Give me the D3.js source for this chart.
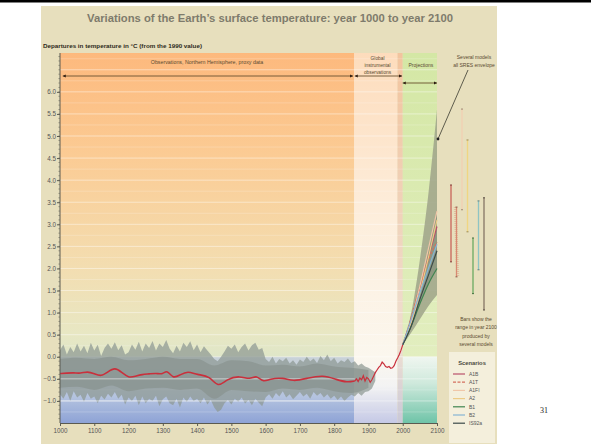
<!DOCTYPE html>
<html lang="en">
<head>
  <meta charset="utf-8">
  <script src="https://d3js.org/d3.v7.min.js"></script>
  <style>
    body { margin: 0; background: #fff; }
    svg { display: block; font-family: "Liberation Sans", Arial, sans-serif; }
  </style>
</head>
<body>
  <svg width="591" height="444"></svg>

  <script>
    const W = 591, H = 444;

    // smoothed proxy reconstruction (red line), 1000-1860
    const redYears = [1000, 1020, 1040, 1060, 1080, 1100, 1120, 1140, 1160, 1180, 1200, 1220, 1240, 1260, 1280, 1300, 1312, 1330, 1350, 1373, 1400, 1437, 1461, 1487, 1525, 1554, 1574, 1592, 1612, 1650, 1680, 1720, 1767, 1808, 1837, 1860];
    const redTemps = [-0.38, -0.37, -0.36, -0.38, -0.33, -0.38, -0.45, -0.34, -0.24, -0.35, -0.48, -0.44, -0.40, -0.39, -0.37, -0.40, -0.29, -0.50, -0.41, -0.32, -0.41, -0.43, -0.71, -0.50, -0.43, -0.52, -0.41, -0.58, -0.50, -0.47, -0.56, -0.49, -0.41, -0.52, -0.58, -0.55];

    // instrumental record
    const instYears = [1860, 1865, 1870, 1875, 1880, 1885, 1890, 1895, 1900, 1905, 1910, 1915, 1920, 1925, 1930, 1935, 1940, 1945, 1950, 1955, 1960, 1965, 1970, 1975, 1980, 1985, 1990, 1995, 2000];
    const instTemps = [-0.55, -0.50, -0.56, -0.48, -0.52, -0.43, -0.55, -0.47, -0.50, -0.58, -0.52, -0.44, -0.36, -0.30, -0.24, -0.20, -0.12, -0.16, -0.22, -0.24, -0.22, -0.26, -0.25, -0.20, -0.10, -0.03, 0.05, 0.15, 0.27];

    // annual proxy spread (grey spikes), every 10 years
    const spreadYears = d3.range(1000, 1921, 10);
    const spreadHi = [0.15, 0.28, 0.05, 0.22, 0.10, 0.30, 0.12, 0.25, 0.08, 0.32,
      0.14, 0.27, 0.02, 0.20, 0.30, 0.18, 0.33, 0.15, 0.26, 0.05,
      0.10, 0.28, 0.16, 0.34, 0.12, 0.30, 0.20, 0.36, 0.14, 0.30,
      0.22, 0.38, 0.18, 0.08, 0.25, 0.12, 0.32, 0.22, 0.35, 0.15,
      0.28, 0.10, 0.24, 0.14, 0.05, -0.05, -0.10, 0.00, 0.12, 0.25,
      0.18, 0.28, 0.10, 0.22, 0.30, 0.14, 0.26, 0.32, 0.16, 0.20,
      -0.05, -0.12, 0.00, -0.15, -0.05, -0.10, -0.02, -0.15, -0.08, -0.18,
      -0.06, -0.12, 0.00, -0.10, -0.04, -0.14, 0.02, -0.08, 0.05, -0.10,
      -0.02, -0.15, -0.08, -0.12, -0.04, -0.14, -0.10, -0.20, -0.15, -0.22,
      -0.25, -0.30, -0.35];
    const spreadLo = [-0.85, -0.95, -0.80, -1.00, -0.78, -0.92, -0.86, -1.02, -0.82, -0.95,
      -0.90, -1.05, -0.88, -0.97, -0.84, -0.92, -0.80, -0.95, -0.86, -1.08,
      -0.92, -1.00, -0.88, -1.10, -0.90, -1.05, -0.95, -1.00, -0.88, -1.12,
      -0.96, -0.90, -1.05, -1.10, -0.95, -1.15, -0.92, -1.02, -0.90, -1.00,
      -0.95, -1.05, -0.92, -1.08, -0.98, -1.15, -1.25, -1.20, -1.05, -0.98,
      -1.08, -0.95, -1.02, -0.92, -1.06, -0.98, -1.10, -0.95, -1.04, -1.12,
      -0.92, -0.85, -0.95, -0.82, -0.90, -0.78, -0.92, -0.85, -0.96, -0.88,
      -0.80, -0.90, -0.84, -0.95, -0.80, -0.88, -0.82, -0.92, -0.85, -0.95,
      -0.88, -0.98, -0.90, -1.00, -0.92, -0.86, -0.90, -0.82, -0.88, -0.80,
      -0.78, -0.72, -0.55];

    // dense core of the proxy spread
    const coreYears = [1000, 1050, 1100, 1150, 1200, 1250, 1300, 1350, 1400, 1450, 1500, 1550, 1600, 1650, 1700, 1750, 1800, 1850, 1900];
    const coreHi = [-0.05, -0.02, -0.05, 0.00, -0.08, -0.05, 0.00, -0.05, -0.05, -0.20, -0.08, -0.10, -0.20, -0.18, -0.22, -0.15, -0.22, -0.25, -0.30];
    const coreLo = [-0.70, -0.68, -0.75, -0.65, -0.78, -0.72, -0.70, -0.75, -0.72, -0.95, -0.75, -0.78, -0.80, -0.72, -0.75, -0.70, -0.78, -0.82, -0.70];

    // projections
    const projYears = [2000, 2025, 2050, 2075, 2100];
    const envHi = [0.27, 1.0, 2.2, 3.7, 5.6];
    const envLo = [0.27, 0.55, 0.85, 1.15, 1.4];
    const scenNames = ["A1B", "A1T", "A1FI", "A2", "B1", "B2", "IS92a"];
    const scenColors = ["#b9506a", "#d4705e", "#f0c6a8", "#eccb86", "#3f8550", "#86b4d4", "#3c4a4a"];
    const scenPaths = [
      [0.27, 0.85, 1.55, 2.25, 2.95],
      [0.27, 0.90, 1.60, 2.20, 2.60],
      [0.27, 0.80, 1.60, 2.45, 3.30],
      [0.27, 0.75, 1.45, 2.25, 3.10],
      [0.27, 0.70, 1.20, 1.65, 2.00],
      [0.27, 0.85, 1.45, 2.00, 2.55],
      [0.27, 0.70, 1.30, 1.85, 2.40]
    ];
    // ranges in 2100 from several models (bars)
    const barHi = [3.89, 3.39, 5.61, 4.91, 2.69, 3.53, 3.60];
    const barLo = [2.15, 1.81, 3.33, 2.83, 1.43, 1.97, 1.06];
    const barColors = ["#c8645a", "#d88a72", "#f2cfb2", "#f0d682", "#6aaa62", "#8ec4c4", "#857565"];

    const yTicks = [6.0, 5.5, 5.0, 4.5, 4.0, 3.5, 3.0, 2.5, 2.0, 1.5, 1.0, 0.5, 0.0, -0.5, -1.0];
    const xTicks = d3.range(1000, 2101, 100);

    const svg = d3.select("svg");
    const x = d3.scaleLinear().domain([1000, 2100]).range([60, 437]);
    const y = d3.scaleLinear().domain([-1.5, 6.88]).range([423, 53]);

    // page + slide background
    svg.append("rect").attr("width", W).attr("height", H).attr("fill", "#fff");
    svg.append("rect").attr("x", 41).attr("y", 6).attr("width", 456).attr("height", 438).attr("fill", "#e7dfbd");
    svg.append("rect").attr("x", 0).attr("y", 0).attr("width", W).attr("height", 2.5).attr("fill", "#000");

    const defs = svg.append("defs");
    function vgrad(id, stops) {
      const g = defs.append("linearGradient").attr("id", id)
        .attr("x1", 0).attr("x2", 0).attr("y1", 0).attr("y2", 1);
      stops.forEach(s => g.append("stop").attr("offset", s[0]).attr("stop-color", s[1]));
    }
    vgrad("gProxyTop", [[0, "#fdb97d"], [0.35, "#fbcc95"], [0.7, "#f3ddb0"], [0.92, "#e8e7c3"], [1, "#dfe6c8"]]);
    vgrad("gProxyBot", [[0, "#c9d2d8"], [0.6, "#b4c3df"], [1, "#8ea3d6"]]);
    vgrad("gInst", [[0, "#fddcbc"], [0.45, "#fdeedc"], [0.82, "#fbf7ee"], [0.9, "#f3f3f3"], [1, "#c5c9e6"]]);
    vgrad("gBand", [[0, "#f2c49e"], [0.8, "#eedfd2"], [1, "#c9c8d8"]]);
    vgrad("gProj", [[0, "#d4e7a5"], [1, "#e2eebf"]]);
    vgrad("gProjBot", [[0, "#f0f6f0"], [0.4, "#cfe9dc"], [1, "#6fc4a8"]]);

    const plotTop = y.range()[1], plotBot = y.range()[0], y0 = y(0);
    svg.append("rect").attr("x", x(1000)).attr("y", plotTop).attr("width", x(1858) - x(1000)).attr("height", y0 - plotTop).attr("fill", "url(#gProxyTop)");
    svg.append("rect").attr("x", x(1000)).attr("y", y0).attr("width", x(1858) - x(1000)).attr("height", plotBot - y0).attr("fill", "url(#gProxyBot)");
    svg.append("rect").attr("x", x(1858)).attr("y", plotTop).attr("width", x(1985) - x(1858)).attr("height", plotBot - plotTop).attr("fill", "url(#gInst)");
    svg.append("rect").attr("x", x(1985)).attr("y", plotTop).attr("width", x(2000) - x(1985)).attr("height", plotBot - plotTop).attr("fill", "url(#gBand)");
    svg.append("rect").attr("x", x(2000)).attr("y", plotTop).attr("width", x(2100) - x(2000)).attr("height", y0 - plotTop).attr("fill", "url(#gProj)");
    svg.append("rect").attr("x", x(2000)).attr("y", y0).attr("width", x(2100) - x(2000)).attr("height", plotBot - y0).attr("fill", "url(#gProjBot)");

    // faint grid stripes
    svg.append("g").selectAll("line").data(d3.range(-1.25, 6.8, 0.25))
      .join("line")
      .attr("x1", x(1000)).attr("x2", x(2100))
      .attr("y1", d => y(d)).attr("y2", d => y(d))
      .attr("stroke", "#fff").attr("stroke-width", 0.8)
      .attr("stroke-opacity", d => Math.abs(d * 2 - Math.round(d * 2)) < 0.01 ? 0.55 : 0.25);

    // proxy spread
    const spread = spreadYears.map((yr, i) => ({ yr, hi: spreadHi[i], lo: spreadLo[i] }));
    svg.append("path").datum(spread)
      .attr("d", d3.area().x(d => x(d.yr)).y0(d => y(d.lo)).y1(d => y(d.hi)).curve(d3.curveLinear))
      .attr("fill", "#8e9893").attr("fill-opacity", 0.72);
    const core = coreYears.map((yr, i) => ({ yr, hi: coreHi[i], lo: coreLo[i] }));
    svg.append("path").datum(core)
      .attr("d", d3.area().x(d => x(d.yr)).y0(d => y(d.lo)).y1(d => y(d.hi)).curve(d3.curveMonotoneX))
      .attr("fill", "#86908b").attr("fill-opacity", 0.6);

    // light lines crossing the data
    svg.append("g").selectAll("line").data([-0.5, -1.0])
      .join("line")
      .attr("x1", x(1000)).attr("x2", x(1860))
      .attr("y1", d => y(d)).attr("y2", d => y(d))
      .attr("stroke", "#eef0f4").attr("stroke-opacity", 0.6).attr("stroke-width", 1);

    // projection envelope
    const env = projYears.map((yr, i) => ({ yr, hi: envHi[i], lo: envLo[i] }));
    svg.append("path").datum(env)
      .attr("d", d3.area().x(d => x(d.yr)).y0(d => y(d.lo)).y1(d => y(d.hi)).curve(d3.curveMonotoneX))
      .attr("fill", "#a2a78c").attr("fill-opacity", 0.9);
    const scenMin = projYears.map((yr, i) => d3.min(scenPaths, p => p[i]));
    const scenMax = projYears.map((yr, i) => d3.max(scenPaths, p => p[i]));
    svg.append("path").datum(projYears.map((yr, i) => ({ yr, hi: scenMax[i], lo: scenMin[i] })))
      .attr("d", d3.area().x(d => x(d.yr)).y0(d => y(d.lo)).y1(d => y(d.hi)).curve(d3.curveMonotoneX))
      .attr("fill", "#7d8a78").attr("fill-opacity", 0.6);

    const scenLine = d3.line().x((d, i) => x(projYears[i])).y(d => y(d)).curve(d3.curveMonotoneX);
    svg.append("g").selectAll("path").data(scenPaths)
      .join("path")
      .attr("d", scenLine)
      .attr("fill", "none")
      .attr("stroke", (d, i) => scenColors[i])
      .attr("stroke-width", 1.2)
      .attr("stroke-dasharray", (d, i) => i === 1 ? "3,1.5" : null);

    // red observed lines
    const red = "#c9303c";
    svg.append("path").datum(redYears.map((yr, i) => [yr, redTemps[i]]))
      .attr("d", d3.line().x(d => x(d[0])).y(d => y(d[1])).curve(d3.curveBasis))
      .attr("fill", "none").attr("stroke", red).attr("stroke-width", 1.6);
    svg.append("path").datum(instYears.map((yr, i) => [yr, instTemps[i]]))
      .attr("d", d3.line().x(d => x(d[0])).y(d => y(d[1])))
      .attr("fill", "none").attr("stroke", red).attr("stroke-width", 1.2);

    // axes
    const axisCol = "#5a5a50";
    const yAxis = svg.append("g").attr("transform", `translate(${x(1000)},0)`)
      .call(d3.axisLeft(y).tickValues(yTicks).tickSize(3).tickFormat(d3.format(".1f")));
    yAxis.select(".domain").attr("stroke", axisCol).attr("d", `M0,${plotTop}V${plotBot}`);
    yAxis.selectAll(".tick line").attr("stroke", axisCol);
    yAxis.selectAll(".tick text").attr("font-size", 6.3).attr("fill", "#555").attr("x", -4)
      .attr("font-family", "Liberation Sans, Arial, sans-serif");
    svg.append("g").selectAll("line").data(d3.range(-14, 69, 1).map(v => v / 10))
      .join("line")
      .attr("x1", x(1000) - 1.6).attr("x2", x(1000))
      .attr("y1", d => y(d)).attr("y2", d => y(d))
      .attr("stroke", axisCol).attr("stroke-width", 0.5);

    const xAxis = svg.append("g").attr("transform", `translate(0,${plotBot})`)
      .call(d3.axisBottom(x).tickValues(xTicks).tickSize(3).tickFormat(d3.format("d")));
    xAxis.select(".domain").attr("stroke", axisCol);
    xAxis.selectAll(".tick line").attr("stroke", axisCol);
    xAxis.selectAll(".tick text").attr("font-size", 6.3).attr("fill", "#555").attr("y", 6)
      .attr("font-family", "Liberation Sans, Arial, sans-serif");

    // bars for 2100 ranges
    const bx = d3.scalePoint().domain(scenNames).range([451, 484]);
    const bars = svg.append("g").selectAll("g").data(scenNames).join("g");
    bars.append("line")
      .attr("x1", d => bx(d)).attr("x2", d => bx(d))
      .attr("y1", (d, i) => y(barHi[i])).attr("y2", (d, i) => y(barLo[i]))
      .attr("stroke", (d, i) => barColors[i]).attr("stroke-width", 1.3);
    bars.filter(d => d === "A1T").append("line")
      .attr("x1", d => bx(d) - 1.2).attr("x2", d => bx(d) + 1.2)
      .attr("y1", y(barHi[1])).attr("y2", y(barLo[1]))
      .attr("stroke", barColors[1]).attr("stroke-width", 3).attr("stroke-dasharray", "0.5,1.5").attr("stroke-opacity", 0.8);
    bars.each(function (d, i) {
      d3.select(this).selectAll("line.cap").data([barHi[i], barLo[i]])
        .join("line").attr("class", "cap")
        .attr("x1", bx(d) - 1).attr("x2", bx(d) + 1)
        .attr("y1", v => y(v)).attr("y2", v => y(v))
        .attr("stroke", d3.color(barColors[i]).darker(1.2)).attr("stroke-width", 1);
    });

    // titles
    svg.append("text").attr("x", 270).attr("y", 22).attr("text-anchor", "middle")
      .attr("font-size", 10.5).attr("font-weight", "bold").attr("fill", "#7e7b6c")
      .attr("textLength", 366).attr("lengthAdjust", "spacingAndGlyphs")
      .text("Variations of the Earth\u2019s surface temperature: year 1000 to year 2100");
    svg.append("text").attr("x", 43).attr("y", 48)
      .attr("font-size", 5.6).attr("font-weight", "bold").attr("fill", "#2d2a20")
      .attr("textLength", 159).attr("lengthAdjust", "spacingAndGlyphs")
      .text("Departures in temperature in \u00b0C (from the 1990 value)");

    // period headers
    const hdr = "#5a4a30";
    function arrowLine(x1, x2, yy) {
      svg.append("line").attr("x1", x1).attr("x2", x2).attr("y1", yy).attr("y2", yy)
        .attr("stroke", "#6a5030").attr("stroke-width", 0.9);
      [[x1, 1], [x2, -1]].forEach(([px, dir]) => {
        svg.append("path").attr("d", `M${px},${yy}l${dir * 3},-1.4v2.8z`).attr("fill", "#2a1a10");
      });
    }
    arrowLine(x(1008), x(1855), 76);
    arrowLine(x(1860), x(1998), 76);
    arrowLine(x(2000), x(2100), 83);

    function label(lines, cx, y1, step, size) {
      lines.forEach((t, i) => svg.append("text").attr("x", cx).attr("y", y1 + i * step)
        .attr("text-anchor", "middle").attr("font-size", size).attr("fill", hdr).text(t));
    }
    label(["Observations, Northern Hemisphere, proxy data"], (x(1000) + x(1858)) / 2, 64, 0, 5.3);
    label(["Global", "instrumental", "observations"], (x(1858) + x(1995)) / 2, 60, 7, 4.8);
    label(["Projections"], (x(2000) + x(2100)) / 2 + 1, 67, 0, 5);
    label(["Several models", "all SRES envelope"], 474, 59, 8, 5);

    // pointer to envelope
    svg.append("line").attr("x1", 468).attr("y1", 70).attr("x2", x(2100) + 1).attr("y2", 139)
      .attr("stroke", "#3a3a30").attr("stroke-width", 0.8);
    svg.append("circle").attr("cx", x(2100) + 1).attr("cy", 139).attr("r", 1.4).attr("fill", "#222");

    label(["Bars show the", "range in year 2100", "produced by", "several models"], 476, 321, 8.3, 5);

    // legend
    const lg = svg.append("g");
    lg.append("rect").attr("x", 449).attr("y", 352).attr("width", 46).attr("height", 91).attr("fill", "#f4efdc");
    lg.append("text").attr("x", 472).attr("y", 365).attr("text-anchor", "middle")
      .attr("font-size", 5.8).attr("font-weight", "bold").attr("fill", "#4a4a40").text("Scenarios");
    const li = lg.selectAll("g.it").data(scenNames).join("g").attr("class", "it")
      .attr("transform", (d, i) => `translate(0,${374 + i * 8.2})`);
    li.append("line").attr("x1", 453).attr("x2", 465).attr("y1", 0).attr("y2", 0)
      .attr("stroke", (d, i) => scenColors[i]).attr("stroke-width", 1.2)
      .attr("stroke-dasharray", (d, i) => i === 1 ? "3,1.5" : null);
    li.append("text").attr("x", 469).attr("y", 1.8).attr("font-size", 5).attr("fill", "#555").text(d => d);

    // slide page number
    svg.append("text").attr("x", 540).attr("y", 413).attr("font-size", 8)
      .attr("font-family", "Liberation Serif, serif").attr("fill", "#222").text("31");
  </script>
</body>
</html>
